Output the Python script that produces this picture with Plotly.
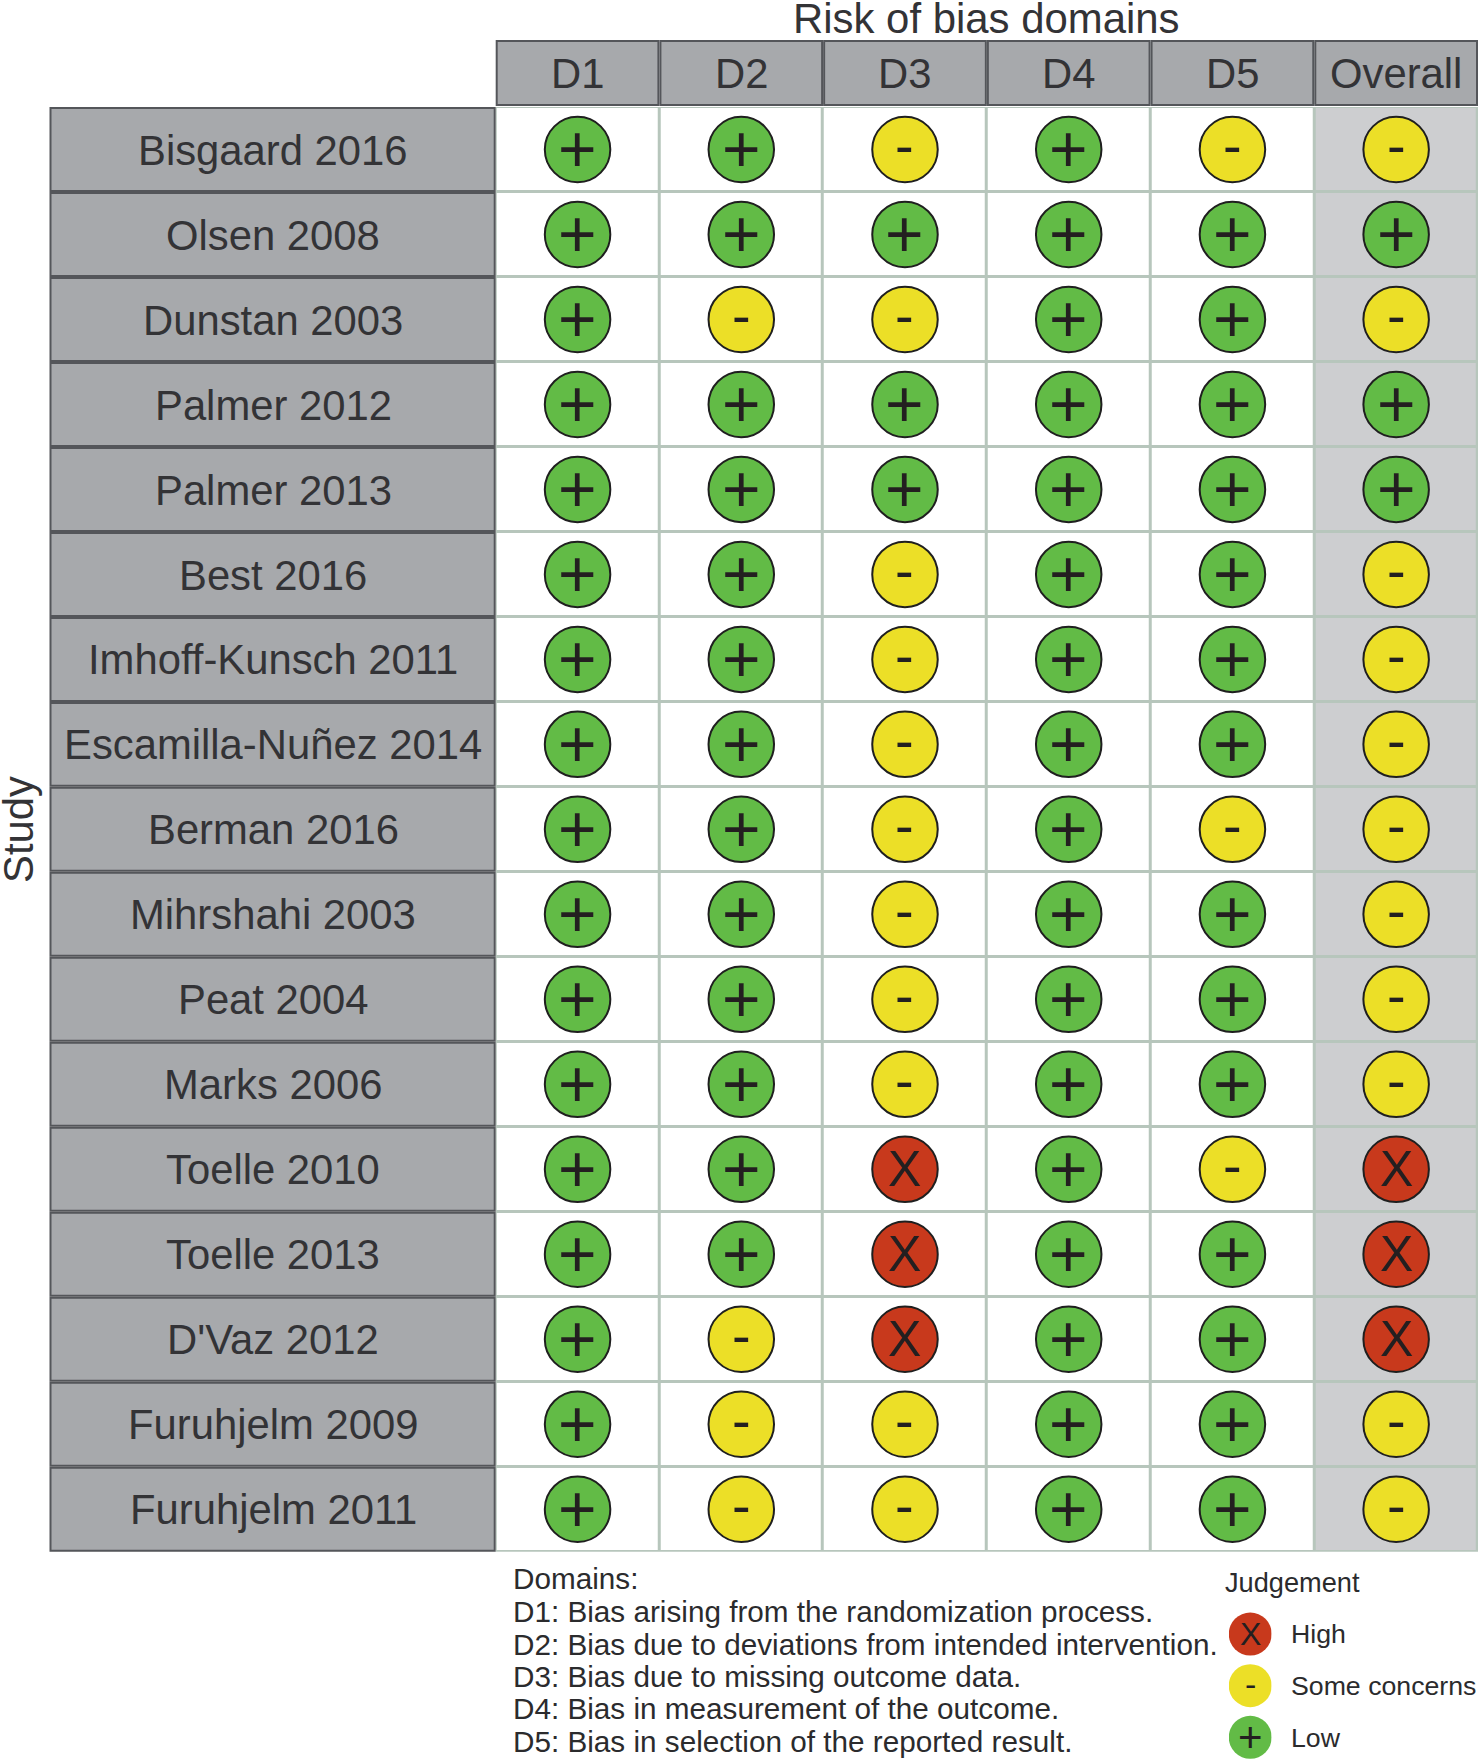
#!/usr/bin/env python3

import plotly.graph_objects as go

W, H = 1478, 1759
FONT = "Liberation Sans"
INK = "#333336"

domains = ["D1", "D2", "D3", "D4", "D5", "Overall"]
studies = [
    "Bisgaard 2016", "Olsen 2008", "Dunstan 2003", "Palmer 2012", "Palmer 2013",
    "Best 2016", "Imhoff-Kunsch 2011", "Escamilla-Nuñez 2014", "Berman 2016",
    "Mihrshahi 2003", "Peat 2004", "Marks 2006", "Toelle 2010", "Toelle 2013",
    "D'Vaz 2012", "Furuhjelm 2009", "Furuhjelm 2011",
]
# L = low, S = some concerns, H = high; columns follow `domains`
judgements = [
    "LLSLSS", "LLLLLL", "LSSLLS", "LLLLLL", "LLLLLL", "LLSLLS", "LLSLLS", "LLSLLS",
    "LLSLSS", "LLSLLS", "LLSLLS", "LLSLLS", "LLHLSH", "LLHLLH", "LSHLLH", "LSSLLS",
    "LSSLLS",
]
legend_names = ["High", "Some concerns", "Low"]
legend_codes = ["H", "S", "L"]
domain_notes = [
    "Domains:",
    "D1: Bias arising from the randomization process.",
    "D2: Bias due to deviations from intended intervention.",
    "D3: Bias due to missing outcome data.",
    "D4: Bias in measurement of the outcome.",
    "D5: Bias in selection of the reported result.",
]

colors = {"H": "#c8391c", "S": "#ecdf27", "L": "#62bb46"}
glyphs = {"H": "X", "S": "-", "L": "+"}
glyph_sizes = {"H": 50, "S": 56, "L": 66}
glyph_shift = {"H": 0, "S": 4, "L": 0}
legend_glyph_sizes = {"H": 32, "S": 34, "L": 42}
legend_glyph_shift = {"H": 0, "S": 2, "L": 0}

# panel edges in page pixels
left, strip_left = 495.7, 50.5
top, bottom, head_top = 107.0, 1551.7, 40.0
row_h = (bottom - top) / len(studies)
col_w = (W - left) / len(domains)


def px(x):
    return x / W


def py(y):
    return 1 - y / H


fig = go.Figure()

fig.add_trace(go.Heatmap(
    x=domains, y=studies,
    z=[[1 if d == "Overall" else 0 for d in domains] for s in studies],
    colorscale=[[0, "white"], [1, "#cdced0"]],
    zmin=0, zmax=1, xgap=3, ygap=3, showscale=False, hoverinfo="skip"))

shapes = []
annots = []

for code in ["L", "S", "H"]:
    xs, ys = [], []
    for s, row in zip(studies, judgements):
        for d, j in zip(domains, row):
            if j == code:
                xs.append(d)
                ys.append(s)
                annots.append(dict(x=d, y=s, xref="x", yref="y", text=glyphs[code],
                                   showarrow=False, yshift=glyph_shift[code],
                                   font=dict(family=FONT, size=glyph_sizes[code], color="#231f20")))
    fig.add_trace(go.Scatter(
        x=xs, y=ys, mode="markers", showlegend=False,
        marker=dict(size=65.5, color=colors[code], line=dict(color="#1f1f1f", width=2))))

# judgement key on its own small axes
for name, code in zip(legend_names, legend_codes):
    fig.add_trace(go.Scatter(
        x=[0], y=[name], xaxis="x2", yaxis="y2", mode="markers", showlegend=False,
        marker=dict(size=43, color=colors[code])))
    annots.append(dict(x=0, y=name, xref="x2", yref="y2", text=glyphs[code],
                       showarrow=False, yshift=legend_glyph_shift[code],
                       font=dict(family=FONT, size=legend_glyph_sizes[code], color="#231f20")))

fig.update_layout(
    width=W, height=H, margin=dict(l=0, r=0, t=0, b=0),
    paper_bgcolor="white", plot_bgcolor="white",
    font=dict(family=FONT, color=INK),
    xaxis=dict(domain=[px(left), 1], range=[-0.5, 5.5], type="category",
               categoryorder="array", categoryarray=domains,
               showticklabels=False, showgrid=False, zeroline=False, ticks=""),
    yaxis=dict(domain=[py(bottom), py(top)], range=[16.5, -0.5], type="category",
               categoryorder="array", categoryarray=studies,
               showticklabels=False, showgrid=False, zeroline=False, ticks=""),
    xaxis2=dict(domain=[px(1229), px(1271.5)], range=[-1, 1], visible=False, anchor="y2"),
    yaxis2=dict(domain=[0, py(1608.2)], range=[2.42, -0.5], type="category",
                categoryorder="array", categoryarray=legend_names,
                visible=False, anchor="x2"),
)


def label(x, y, text, size, xanchor="center", angle=0, color=INK):
    annots.append(dict(x=x, y=y, xref="paper", yref="paper", text=text, showarrow=False,
                       xanchor=xanchor, yanchor="middle", textangle=angle,
                       font=dict(family=FONT, size=size, color=color)))


def strip(x0, x1, y0, y1):
    shapes.append(dict(type="rect", xref="paper", yref="paper", layer="above",
                       x0=px(x0), x1=px(x1), y0=py(y0), y1=py(y1),
                       fillcolor="#a7a9ac", line=dict(color="#54565a", width=2)))


# grid colour shows through the heatmap gaps
shapes.append(dict(type="rect", xref="paper", yref="paper", layer="below",
                   x0=px(left), x1=1, y0=py(bottom), y1=py(top),
                   fillcolor="#b7c6bc", line=dict(width=0)))

for i, s in enumerate(studies):
    y0 = top + i * row_h
    strip(strip_left, left - 1, y0 + 1, y0 + row_h - 1)
    label(px((strip_left + left) / 2), py(y0 + row_h / 2 + 0.6), s, 41.8)

for i, d in enumerate(domains):
    x0 = left + i * col_w
    strip(x0 + 1, min(x0 + col_w - 1, W), head_top + 1, top - 2)
    label(px(x0 + col_w / 2), py(73), d, 41.8)

label(px((left + W) / 2), py(18.5), "Risk of bias domains", 41.9)
label(px(18), py(830), "Study", 41.8, angle=-90)

note_ys = [1578, 1611.5, 1644, 1676, 1708, 1741]
for y, t in zip(note_ys, domain_notes):
    label(px(510.5), py(y), t, 29.7, xanchor="left", color="#2b2b2d")

label(px(1223), py(1582), "Judgement", 27.2, xanchor="left", color="#2b2b2d")
for y, t in zip([1634, 1686, 1737.5], legend_names):
    label(px(1288.5), py(y), t, 26.7, xanchor="left", color="#2b2b2d")

fig.update_layout(shapes=shapes, annotations=annots)

# drop the browser's default page margin so the figure fills the window
fig.write_html("out.html", config={"displayModeBar": False},
               post_script="document.body.style.margin = '0';")
